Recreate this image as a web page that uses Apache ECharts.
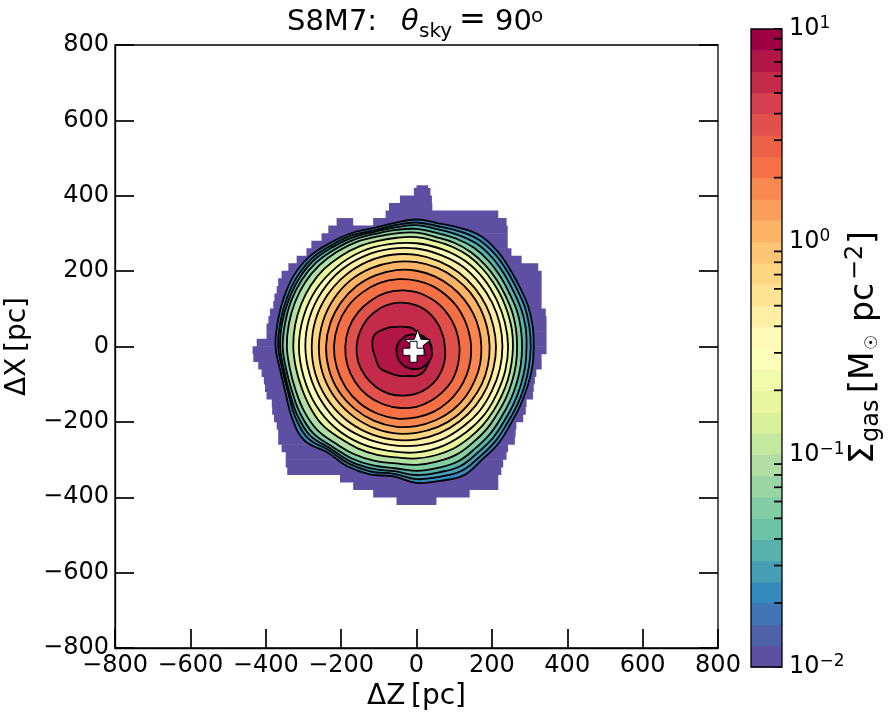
<!DOCTYPE html>
<html>
<head>
<meta charset="utf-8">
<script src="https://cdn.jsdelivr.net/npm/echarts@6/dist/echarts.min.js"></script>
<style>
  html, body { margin: 0; background: #fff; }
  #chart { width: 893px; height: 719px; }
</style>
</head>
<body>
<div id="chart"></div>
<script>
  var cbMinorTicks = [0.02, 0.03, 0.04, 0.05, 0.06, 0.07, 0.08, 0.09, 0.2, 0.3, 0.4, 0.5, 0.6, 0.7, 0.8, 0.9, 2, 3, 4, 5, 6, 7, 8, 9];

  // colour bar band edges, Msun/pc^2
  var bandEdges = [0.01, 0.0126, 0.0158, 0.02, 0.0251, 0.0316, 0.0398, 0.0501, 0.0631, 0.0794,
    0.1, 0.126, 0.158, 0.2, 0.251, 0.316, 0.398, 0.501, 0.631, 0.794,
    1, 1.26, 1.58, 2, 2.51, 3.16, 3.98, 5.01, 6.31, 7.94, 10];

  // gas extent, one row per y (pc)
  var blobY = [417, 410, 390, 370, 350, 330, 330, 310, 290, 270, 250, 230, 210, 190, 170, 150, 130, 110, 90, 70, 50, 30, 10,
    -10, -30, -50, -70, -90, -110, -130, -150, -170, -190, -210, -230, -250, -270, -290, -310, -330, -350, -370, -390, -410];
  var blobLeft = [0, -7, -44, -73, -82, -115, -212, -234, -252, -279, -292, -318, -340, -358, -367, -371, -377, -380, -389, -393, -398, -398, -424,
    -435, -433, -420, -411, -405, -402, -398, -384, -383, -378, -371, -367, -367, -358, -347, -347, -343, -203, -168, -115, -53];
  var blobRight = [31, 37, 41, 42, 217, 239, -168, 242, 242, 242, 252, 279, 323, 332, 332, 332, 332, 332, 343, 345, 345, 345, 345,
    345, 332, 332, 318, 314, 311, 309, 292, 290, 283, 265, 263, 261, 243, 239, 230, 225, 217, 217, 141, 53];

  // contours: radius in pc from the origin, evenly spaced angles starting at +x, anticlockwise
  var ring01 = [38, 35, 32, 30, 29, 29, 30, 33, 36, 40, 43, 48, 52, 55, 58, 60, 61, 61, 60, 58, 54, 51, 47, 42];
  var ring02 = [40, 37, 35, 33, 33, 32, 40, 51, 60, 74, 95, 116, 117, 113, 113, 100, 90, 81, 78, 70, 58, 50, 43, 40];
  var ring03 = [75, 75, 77, 82, 89, 99, 109, 120, 131, 141, 149, 155, 159, 160, 157, 152, 145, 135, 125, 114, 103, 93, 85, 79];
  var ring04 = [114, 113, 115, 119, 126, 134, 144, 154, 164, 172, 180, 186, 189, 190, 188, 184, 177, 169, 160, 149, 139, 131, 123, 117];
  var ring05 = [145, 144, 146, 151, 157, 166, 175, 185, 195, 203, 211, 216, 219, 219, 217, 213, 206, 198, 188, 179, 169, 160, 153, 148];
  var ring06 = [172, 172, 174, 178, 184, 192, 201, 210, 218, 226, 232, 237, 240, 240, 238, 233, 227, 220, 211, 202, 194, 186, 179, 175];
  var ring07 = [194, 194, 197, 202, 208, 216, 224, 232, 240, 248, 253, 257, 259, 259, 256, 251, 245, 238, 229, 221, 213, 205, 200, 196];
  var ring08 = [211, 211, 214, 219, 226, 234, 243, 252, 260, 267, 273, 277, 278, 278, 275, 270, 263, 255, 247, 238, 229, 222, 216, 212];
  var ring09 = [228, 229, 232, 237, 245, 251, 260, 268, 277, 285, 290, 294, 295, 293, 291, 288, 279, 270, 263, 256, 246, 239, 232, 229];
  var ring10 = [243, 243, 246, 253, 261, 267, 274, 281, 291, 299, 306, 310, 312, 310, 309, 305, 297, 287, 281, 273, 263, 255, 247, 244];
  var ring11 = [256, 257, 258, 261, 265, 271, 277, 281, 284, 290, 293, 298, 306, 313, 320, 324, 326, 327, 327, 325, 324, 325, 325, 317, 312, 306, 299, 297, 293, 288, 280, 273, 266, 261, 258, 256];
  var ring12 = [267, 268, 270, 272, 277, 283, 289, 293, 295, 302, 305, 310, 320, 328, 336, 341, 343, 344, 344, 341, 341, 344, 344, 335, 330, 323, 315, 314, 310, 306, 296, 288, 279, 274, 270, 268];
  var ring13 = [280, 281, 283, 284, 290, 297, 303, 305, 306, 312, 314, 318, 328, 337, 347, 352, 354, 354, 355, 351, 351, 356, 358, 347, 343, 336, 328, 330, 327, 324, 312, 303, 293, 287, 283, 281];
  var ring14 = [292, 294, 295, 296, 302, 310, 316, 316, 316, 322, 321, 324, 335, 345, 356, 360, 361, 362, 362, 357, 358, 365, 368, 354, 352, 345, 336, 341, 339, 338, 325, 316, 305, 299, 295, 293];
  var ring15 = [303, 304, 306, 307, 313, 322, 328, 326, 324, 329, 327, 328, 341, 351, 363, 367, 367, 367, 367, 361, 362, 372, 377, 360, 359, 353, 343, 352, 351, 351, 337, 327, 315, 309, 305, 303];
  var ring16 = [311, 313, 315, 316, 322, 332, 339, 335, 332, 337, 333, 334, 347, 358, 371, 376, 375, 374, 374, 367, 369, 381, 388, 367, 367, 361, 350, 362, 362, 364, 347, 337, 324, 317, 313, 312];

  // outermost first, painted over each other
  var contourRings = [ring16, ring15, ring14, ring13, ring12, ring11, ring10, ring09, ring08, ring07, ring06, ring05, ring04, ring03, ring02, ring01];
  // colour band seen just inside each ring
  var ringBands = [3, 4, 5, 7, 9, 12, 14, 16, 18, 20, 22, 23, 25, 27, 28, 29];

  var starPos = [3, 10];
  var crossPos = [-8, -14];

  var spectral = ['#5e4fa2', '#3288bd', '#66c2a5', '#abdda4', '#e6f598', '#ffffbf', '#fee08b', '#fdae61', '#f46d43', '#d53e4f', '#9e0142'];

  function bandColor(i) {
    return echarts.color.lerp(i / 29, spectral);
  }

  function minusFix(v) {
    return String(v).replace('-', '\u2212');
  }

  var chart = echarts.init(document.getElementById('chart'));
  var FONT = 'DejaVu Sans';
  var TICKW = 1.7;
  var LABEL = '"DejaVu Sans"';

  function drawBlob(params, api) {
    var i = params.dataIndex;
    var a = api.coord([blobLeft[i], blobY[i] + 10]);
    var b = api.coord([blobRight[i], blobY[i] - 10]);
    return {
      type: 'rect',
      shape: {x: a[0], y: a[1] - 0.3, width: b[0] - a[0], height: b[1] - a[1] + 0.6},
      style: {fill: bandColor(0)}
    };
  }

  function drawRing(params, api) {
    var radii = contourRings[params.dataIndex];
    var pts = radii.map(function (r, j) {
      var ang = 2 * Math.PI * j / radii.length;
      return api.coord([r * Math.cos(ang), r * Math.sin(ang)]);
    });
    return {
      type: 'polygon',
      shape: {points: pts, smooth: 0.4},
      style: {fill: bandColor(ringBands[params.dataIndex]), stroke: '#000', lineWidth: 1.8}
    };
  }

  function drawBand(params, api) {
    var i = params.dataIndex;
    var a = api.coord([0, bandEdges[i + 1]]);
    var b = api.coord([1, bandEdges[i]]);
    return {
      type: 'rect',
      shape: {x: a[0], y: a[1], width: b[0] - a[0], height: b[1] - a[1] + 0.5},
      style: {fill: bandColor(i)}
    };
  }

  function drawCbTick(params, api) {
    var p = api.coord([1, cbMinorTicks[params.dataIndex]]);
    return {
      type: 'line',
      shape: {x1: p[0] - 8, y1: p[1], x2: p[0], y2: p[1]},
      style: {stroke: '#000', lineWidth: TICKW}
    };
  }

  function labelText(x, y, text, size, style) {
    return {type: 'text', z: 20, x: x, y: y, style: {text: text, font: (style || '') + size + 'px ' + LABEL, fill: '#000', verticalAlign: 'bottom', align: 'left'}};
  }

  var option = {
    animation: false,
    backgroundColor: '#fff',
    textStyle: {fontFamily: FONT, color: '#000'},
    grid: [
      {left: 115, top: 45, width: 603, height: 603, outerBoundsMode: 'none', show: true, borderColor: '#000', borderWidth: 1.3, backgroundColor: '#fff'},
      {left: 751, top: 29, width: 31, height: 638, outerBoundsMode: 'none'}
    ],
    xAxis: [
      {
        type: 'value', gridIndex: 0, min: -800, max: 800, interval: 200,
        name: '\u0394Z\u2009[pc]', nameLocation: 'middle', nameGap: 30,
        nameTextStyle: {fontSize: 28, color: '#000', fontFamily: FONT},
        axisLine: {onZero: false, lineStyle: {color: '#000', width: 1.3}},
        axisTick: {inside: true, length: 19, lineStyle: {color: '#000', width: TICKW}},
        axisLabel: {fontSize: 24, color: '#000', margin: 6, formatter: minusFix, hideOverlap: false, showMinLabel: true, showMaxLabel: true},
        splitLine: {show: false}
      },
      {type: 'value', gridIndex: 1, min: 0, max: 1, show: false}
    ],
    yAxis: [
      {
        type: 'value', gridIndex: 0, min: -800, max: 800, interval: 200,
        name: '\u0394X\u2009[pc]', nameLocation: 'middle', nameGap: 78,
        nameTextStyle: {fontSize: 28, color: '#000', fontFamily: FONT},
        axisLine: {onZero: false, lineStyle: {color: '#000', width: 1.3}},
        axisTick: {inside: true, length: 19, lineStyle: {color: '#000', width: TICKW}},
        axisLabel: {fontSize: 24, color: '#000', margin: 6, formatter: minusFix, hideOverlap: false, showMinLabel: true, showMaxLabel: true},
        splitLine: {show: false}
      },
      {
        type: 'value', gridIndex: 0, min: -800, max: 800, interval: 200, position: 'right',
        axisLine: {show: false, onZero: false},
        axisTick: {show: true, inside: true, length: 19, lineStyle: {color: '#000', width: TICKW}},
        axisLabel: {show: false},
        splitLine: {show: false}
      },
      {
        type: 'log', logBase: 10, gridIndex: 1, min: 0.01, max: 10, position: 'right',
        axisLine: {show: false, onZero: false},
        axisTick: {show: true, inside: true, length: 8, lineStyle: {color: '#000', width: TICKW}},
        minorTick: {show: false},
        axisLabel: {
          margin: 7,
          hideOverlap: false,
          showMinLabel: true,
          showMaxLabel: true,
          formatter: function (v) {
            return '{base|10}{exp|' + minusFix(Math.round(Math.log10(v))) + '}';
          },
          rich: {
            base: {fontSize: 24, fontFamily: FONT, color: '#000'},
            exp: {fontSize: 17, fontFamily: FONT, color: '#000', verticalAlign: 'top', padding: [0, 0, 10, 0]}
          }
        },
        splitLine: {show: false}
      }
    ],
    series: [
      {type: 'custom', xAxisIndex: 0, yAxisIndex: 0, silent: true, z: 2, renderItem: drawBlob, data: blobY.map(function (y, i) { return [blobLeft[i], y]; })},
      {type: 'custom', xAxisIndex: 0, yAxisIndex: 0, silent: true, z: 3, renderItem: drawRing, data: contourRings.map(function (r, i) { return [r[0], i]; })},
      {
        type: 'scatter', xAxisIndex: 0, yAxisIndex: 0, silent: true, z: 5, data: [starPos], symbolSize: 26,
        symbol: 'path://M50 2 L62 36 L98 37 L70 59 L79 95 L50 74 L21 95 L30 59 L2 37 L38 36 Z',
        itemStyle: {color: '#fff', opacity: 1, borderColor: '#000', borderWidth: 1}
      },
      {
        type: 'scatter', xAxisIndex: 0, yAxisIndex: 0, silent: true, z: 6, data: [crossPos], symbolSize: 21,
        symbol: 'path://M33 0 H67 V33 H100 V67 H67 V100 H33 V67 H0 V33 H33 Z',
        itemStyle: {color: '#fff', opacity: 1, borderColor: '#000', borderWidth: 1}
      },
      {type: 'custom', xAxisIndex: 1, yAxisIndex: 2, silent: true, z: 2, renderItem: drawBand, data: bandEdges.slice(1).map(function (e) { return [0, e]; })},
      {type: 'custom', xAxisIndex: 1, yAxisIndex: 2, silent: true, z: 3, renderItem: drawCbTick, data: cbMinorTicks.map(function (v) { return [1, v]; })}
    ],
    graphic: [
      {type: 'rect', z: 20, silent: true, shape: {x: 751, y: 29, width: 31, height: 638}, style: {fill: 'none', stroke: '#000', lineWidth: 1.3}},
      labelText(287, 37, 'S8M7:', 29),
      labelText(401, 37, '\u03b8', 29, 'italic '),
      labelText(419, 42, 'sky', 20),
      labelText(459, 37, '=', 32),
      labelText(495, 37, '90', 29),
      labelText(531, 27, 'o', 20),
      {
        type: 'group', z: 20, x: 872, y: 464, rotation: Math.PI / 2,
        children: [
          labelText(0, 9, '\u03a3', 34),
          labelText(22, 12, 'gas', 24),
          labelText(71, 9, '[', 33),
          labelText(84, 9, 'M', 33),
          labelText(114, 9, '\u2609', 17),
          labelText(142, 9, 'pc', 33),
          labelText(184, -4, '\u22122', 24),
          labelText(220, 9, ']', 33)
        ]
      }
    ]
  };

  chart.setOption(option);
</script>
</body>
</html>
